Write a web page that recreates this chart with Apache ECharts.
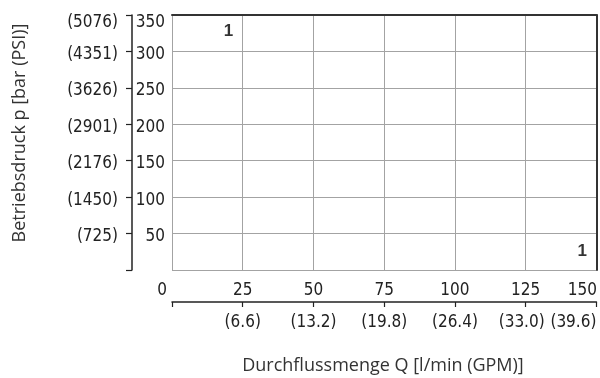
<!DOCTYPE html>
<html><head><meta charset="utf-8">
<script src="https://cdn.jsdelivr.net/npm/echarts@6/dist/echarts.min.js"></script>
<style>html,body{margin:0;padding:0;background:#fff}#c{width:600px;height:378px}</style>
</head><body><div id="c"></div>
<script>
// ---- data ----
const flowLpm = [0, 25, 50, 75, 100, 125, 150];
const flowGpm = ['', '(6.6)', '(13.2)', '(19.8)', '(26.4)', '(33.0)', '(39.6)'];
const pressureBar = [0, 50, 100, 150, 200, 250, 300, 350];
const pressurePsi = ['', '(725)', '(1450)', '(2176)', '(2901)', '(3626)', '(4351)', '(5076)'];
const curveMarkers = [[20, 327, '1'], [145, 25, '1']];
const xTitle = 'Durchflussmenge Q [l/min (GPM)]';
const yTitle = 'Betriebsdruck p [bar (PSI)]';

const tickFont = '"Liberation Sans Narrow", "DejaVu Sans Condensed", "Liberation Sans", sans-serif';
const titleFont = '"Open Sans", "Noto Sans", sans-serif';
const gridGray = '#a3a3a3';
const dark = '#333';

const chart = echarts.init(document.getElementById('c'), null, {renderer: 'canvas'});
const xMin = flowLpm[0], xMax = flowLpm[flowLpm.length - 1], xStep = flowLpm[1] - flowLpm[0];
const yMin = pressureBar[0], yMax = pressureBar[pressureBar.length - 1], yStep = pressureBar[1] - pressureBar[0];

const baseX = {type: 'value', min: xMin, max: xMax, interval: xStep, gridIndex: 0};
const baseY = {type: 'value', min: yMin, max: yMax, interval: yStep, gridIndex: 0};
const lbl = {fontFamily: tickFont, fontSize: 17, color: '#222'};

chart.setOption({
  animation: false,
  grid: {left: 172, right: 2, top: 15, bottom: 108, show: false},
  graphic: [
    {type: 'text', x: 383, y: 366,
     style: {text: xTitle, fontFamily: titleFont, fontSize: 18, fill: '#333', align: 'center', verticalAlign: 'middle'}},
    {type: 'text', x: 20, y: 133, rotation: Math.PI / 2,
     style: {text: yTitle, fontFamily: titleFont, fontSize: 18, fill: '#333', align: 'center', verticalAlign: 'middle'}}
  ],
  xAxis: [
    Object.assign({}, baseX, {
      position: 'bottom',
      axisLine: {show: false}, axisTick: {show: false},
      splitLine: {show: true, lineStyle: {color: gridGray, width: 1}},
      axisLabel: Object.assign({}, lbl, {
        margin: 12,
        formatter: v => v === xMin ? '{l|' + v + '}' : (v === xMax ? '{r|' + v + '}' : String(v)),
        rich: {l: Object.assign({padding: [0, 20, 0, 0]}, lbl),
               r: Object.assign({padding: [0, 28, 0, 0]}, lbl)}
      })
    }),
    Object.assign({}, baseX, {
      position: 'bottom', offset: 32,
      axisLine: {show: true, onZero: false, lineStyle: {color: '#222', width: 1.5}},
      axisTick: {show: true, length: 5, lineStyle: {color: '#222', width: 1.2}},
      splitLine: {show: false},
      axisLabel: Object.assign({}, lbl, {
        margin: 12, showMinLabel: true, showMaxLabel: true,
        formatter: v => {
          const s = flowGpm[flowLpm.indexOf(v)] || '';
          if (v === xMax) return '{r|' + s + '}';
          if (v === flowLpm[flowLpm.length - 2]) return '{q|' + s + '}';
          return s;
        },
        rich: {r: Object.assign({padding: [0, 46, 0, 0]}, lbl),
               q: Object.assign({padding: [0, 8, 0, 0]}, lbl)}
      })
    }),
    Object.assign({}, baseX, {
      position: 'top',
      axisLine: {show: true, onZero: false, lineStyle: {color: dark, width: 2}},
      axisTick: {show: false}, axisLabel: {show: false}, splitLine: {show: false}
    })
  ],
  yAxis: [
    Object.assign({}, baseY, {
      position: 'left',
      axisLine: {show: false}, axisTick: {show: false},
      splitLine: {show: true, lineStyle: {color: gridGray, width: 1}},
      axisLabel: Object.assign({}, lbl, {
        margin: 7,
        formatter: v => v === yMin ? '' : (v === yMax ? '{t|' + v + '}' : '{n|' + v + '}'),
        rich: {n: Object.assign({padding: [6, 0, 0, 0]}, lbl),
               t: Object.assign({padding: [16, 0, 0, 0]}, lbl)}
      })
    }),
    Object.assign({}, baseY, {
      position: 'left', offset: 40,
      axisLine: {show: true, onZero: false, lineStyle: {color: '#222', width: 1.5}},
      axisTick: {show: true, length: 6, lineStyle: {color: '#222', width: 1.2}},
      splitLine: {show: false},
      axisLabel: Object.assign({}, lbl, {
        margin: 14,
        formatter: v => {
          const s = pressurePsi[pressureBar.indexOf(v)] || '';
          if (!s) return '';
          return v === yMax ? '{t|' + s + '}' : '{n|' + s + '}';
        },
        rich: {n: Object.assign({padding: [6, 0, 0, 0]}, lbl),
               t: Object.assign({padding: [16, 0, 0, 0]}, lbl)}
      })
    }),
    Object.assign({}, baseY, {
      position: 'right',
      axisLine: {show: true, onZero: false, lineStyle: {color: dark, width: 2}},
      axisTick: {show: false}, axisLabel: {show: false}, splitLine: {show: false}
    })
  ],
  series: [{
    type: 'scatter', xAxisIndex: 0, yAxisIndex: 0,
    symbolSize: 0,
    data: curveMarkers,
    label: {
      show: true, position: 'inside',
      formatter: p => p.data[2],
      fontFamily: '"Liberation Sans", Arial, sans-serif', fontWeight: 'bold', fontSize: 17, color: '#000'
    },
    silent: true
  }]
});
</script></body></html>
